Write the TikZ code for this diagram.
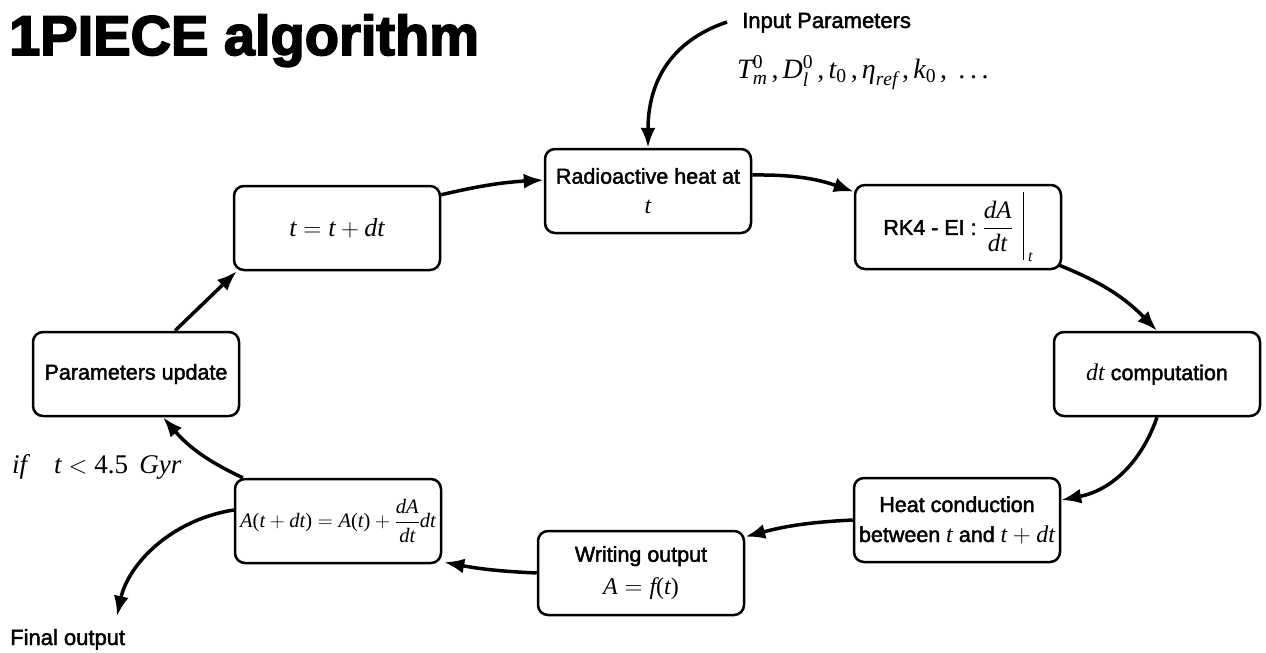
\documentclass[tikz,border=0pt]{standalone}
\usepackage{amsmath}
\usepackage[no-math]{fontspec}
\setmainfont{Liberation Sans}
\newfontfamily\medsans[FakeBold=2]{Liberation Sans}
\newfontfamily\titlesans[FakeBold=3]{Liberation Sans Bold}
\newfontfamily\lsr[NFSSFamily=libserif]{Liberation Serif}
\DeclareSymbolFont{letters}{TU}{libserif}{m}{it}
\DeclareSymbolFont{operators}{TU}{libserif}{m}{n}
\DeclareSymbolFont{cmops}{OT1}{cmr}{m}{n}
\DeclareSymbolFont{cmlet}{OML}{cmm}{m}{it}
\DeclareMathSymbol{=}{\mathrel}{cmops}{"3D}
\DeclareMathSymbol{+}{\mathbin}{cmops}{"2B}
\DeclareMathSymbol{<}{\mathrel}{cmlet}{"3C}
\AtBeginDocument{%
  \DeclareSymbolFont{letters}{TU}{libserif}{m}{it}%
  \DeclareSymbolFont{operators}{TU}{libserif}{m}{n}%
  \mathcode`,="602C \mathcode`.="002E
  \mathcode`0="7030 \mathcode`4="7034 \mathcode`5="7035}
\mathcode`,="602C
\mathcode`.="002E
\newcommand{\myeta}{\mbox{\lsr\itshape η}}
\newcommand{\mydots}{\mbox{\lsr\ .\,.\,.}}
\newcommand{\mth}[1]{{\fontsize{24}{28}\selectfont$#1$}}
\usetikzlibrary{arrows.meta,calc}
\tikzset{
  box/.style={draw, line width=2.5pt, rounded corners=10pt, minimum width=206pt,
    minimum height=84pt, align=center, inner sep=2pt,
    font=\medsans\fontsize{21.5}{30}\selectfont},
  arr/.style={line width=3.5pt, -{Latex[length=20pt,width=15pt]}},
  lbl/.style={inner sep=0pt, anchor=base west}
}
\begin{document}
\begin{tikzpicture}[x=1pt,y=-1pt]
\useasboundingbox (0,0) rectangle (1266,653);
% title and labels
\node[lbl, font=\titlesans\fontsize{56}{60}\selectfont] (title) at (9,55) {1PIECE algorithm};
\node[lbl, font=\medsans\fontsize{22}{25}\selectfont] (inp) at (742,28) {Input Parameters};
\node[lbl, font=\fontsize{28}{32}\selectfont] (pars) at (737,78) {$T_m^0\,,D_l^0\,,t_0\,,\myeta_{ref}\,,k_0\,,\mydots$};
\node[lbl, font=\fontsize{27}{30}\selectfont] (cond) at (12,473) {$if\quad t<4.5\;\,Gyr$};
\node[lbl, font=\medsans\fontsize{22}{24}\selectfont] (fin) at (10,645) {Final output};
% boxes
\node[box] (rad) at (648,191) {Radioactive heat at\\[0pt]\mth{t}};
\node[box] (rk) at (958,227) {RK4 - EI : {\fontsize{25}{28}\selectfont$\displaystyle\frac{dA}{dt}$}\hspace{10pt}\rule[-25pt]{1.4pt}{68pt}\hspace{4pt}\raisebox{-27pt}{\fontsize{16}{18}\selectfont$t$}};
\node[box] (dt) at (1157,374) {\mth{dt} computation};
\node[box] (heat) at (957,520) {Heat conduction\\[0pt]between \mth{t} and \mth{t+dt}};
\node[box] (wr) at (641,573) {Writing output\\[3pt]\mth{A=f(t)}};
\node[box, inner sep=0pt] (A) at (338,521) {\fontsize{20.5}{24}\selectfont$\displaystyle A(t+dt)=A(t)+\frac{dA}{dt}dt$};
\node[box] (pu) at (136,374) {Parameters update};
\node[box] (tt) at (337,228) {\fontsize{26}{30}\selectfont$t=t+dt$};
% connectors
\coordinate (inS) at (727,22);
\coordinate (foT) at (117,616);
\draw[arr] (inS) .. controls (668,42) and (648,85) .. (rad.north);
\draw[arr] ([yshift=-10pt]tt.north east) to[bend left=5] ([yshift=11pt]rad.west);
\draw[arr] ([yshift=16pt]rad.east) to[bend left=10] ([yshift=-8pt]rk.north west);
\draw[arr] ([xshift=-3pt,yshift=5pt]rk.south east) to[bend left=12] (dt.north);
\draw[arr] (dt.south) to[bend left=30] ([yshift=20pt]heat.east);
\draw[arr] (heat.west) to[bend right=6] ([yshift=-7pt]wr.north east);
\draw[arr] (wr.west) to[bend left=4] ([xshift=2pt,yshift=2pt]A.south east);
\draw[arr] ([xshift=9pt]A.north west) to[bend left=12] ([xshift=27pt]pu.south);
\draw[arr] ([xshift=39pt]pu.north) -- ([xshift=4pt]tt.south west);
\draw[arr] ([yshift=11pt]A.west) .. controls (170,520) and (128,565) .. (foT);
\end{tikzpicture}
\end{document}
